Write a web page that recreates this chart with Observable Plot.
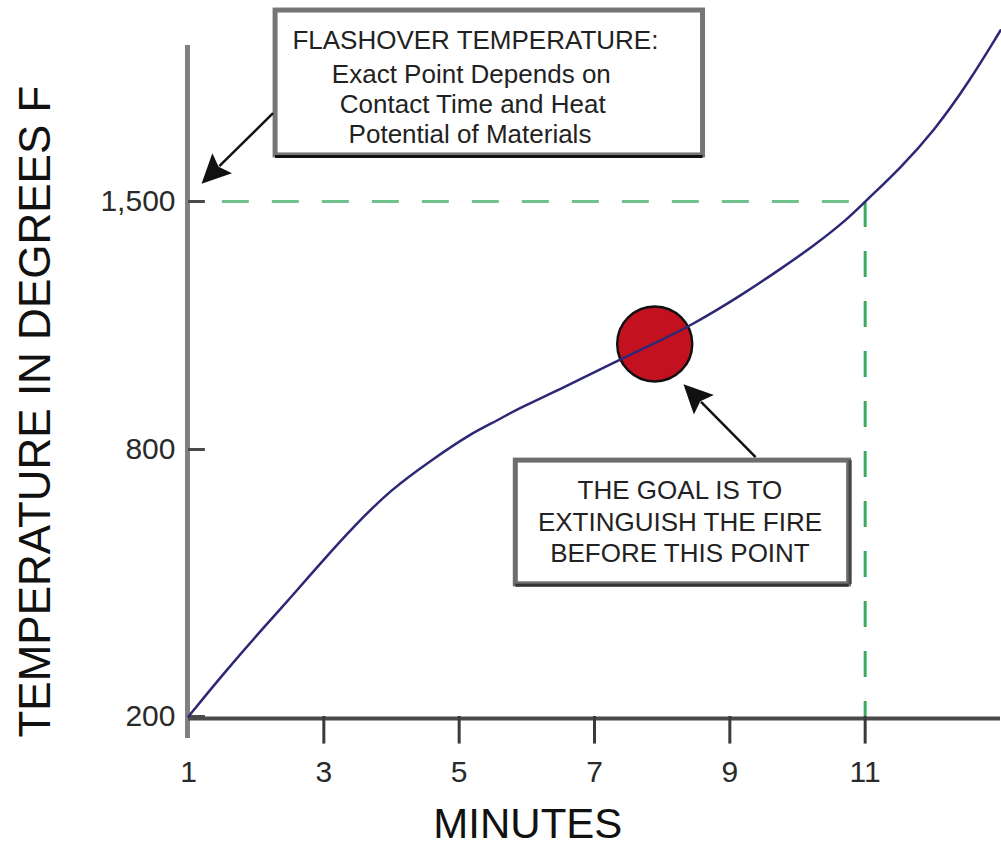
<!DOCTYPE html>
<html>
<head>
<meta charset="utf-8">
<script src="https://cdn.jsdelivr.net/npm/d3@7"></script>
<script src="https://cdn.jsdelivr.net/npm/@observablehq/plot@0.6"></script>
<style>
  html, body { margin: 0; padding: 0; background: #fff; }
  #chart svg { display: block; font-family: "Liberation Sans", Arial, sans-serif; }
</style>
</head>
<body>
<div id="chart"></div>
<script>
// ---- data ----
const minutes = [1, 1.52, 2.11, 2.51, 3.0, 3.44, 3.99, 4.58, 5.17, 5.57, 5.81, 6.55, 7.29, 7.88, 8.43, 9.17, 9.76, 10.25, 10.75, 11.0, 11.53, 12.02, 12.52, 13.0];
const temps   = [200, 297, 400, 467, 553, 627, 710, 775, 845, 882, 910, 975, 1046, 1099, 1150, 1235, 1311, 1376, 1452, 1500, 1596, 1700, 1833, 1983];
const xTicks = [1, 3, 5, 7, 9, 11];
const yTicks = [200, 800, 1500];
const flashoverTemp = 1500;
const flashoverMinute = 11;
const goalPoint = [{minute: 7.89, temp: 1098}];
const xTitle = "MINUTES";
const yTitle = "TEMPERATURE IN DEGREES F";
const box1Lines = ["FLASHOVER TEMPERATURE:", "Exact Point Depends on", "Contact Time and Heat", "Potential of Materials"];
const box2Lines = ["THE GOAL IS TO", "EXTINGUISH THE FIRE", "BEFORE THIS POINT"];

// annotation placement (data units)
const box1 = {x1: 2.287, x2: 8.604, y1: 2039, y2: 1630};
const box2 = {x1: 5.837, x2: 10.763, y1: 775, y2: 497};
const box1Text = [
  {x: 5.24, y: 1955}, {x: 5.18, y: 1857}, {x: 5.2, y: 1772}, {x: 5.16, y: 1690}
].map((d, i) => ({...d, text: box1Lines[i]}));
const box2Text = [
  {x: 8.263, y: 708}, {x: 8.263, y: 636}, {x: 8.263, y: 566}
].map((d, i) => ({...d, text: box2Lines[i]}));
const arrowList = [
  {x1: 2.257, y1: 1748, x2: 1.2, y2: 1549},
  {x1: 9.388, y1: 782, x2: 8.322, y2: 983}
];

const curve = minutes.map((m, i) => ({minute: m, temp: temps[i]}));

// the reference's temperature axis is not evenly spaced: the ticks 200, 800, 1,500
// sit at unequal intervals, so temperatures are warped piecewise before the linear y scale
const warp = d3.scaleLinear().domain([100, 200, 800, 1500, 2200]).range([-44.5, 0, 267, 515, 763]);
const W = v => warp(v);

const NS = "http://www.w3.org/2000/svg";
function arrowMark(list, {headLength = 29, headWidth = 14, stroke = "#111", strokeWidth = 2.5} = {}) {
  return (index, scales) => {
    const g = document.createElementNS(NS, "g");
    for (const a of list) {
      const x1 = scales.x(a.x1), y1 = scales.y(W(a.y1)), x2 = scales.x(a.x2), y2 = scales.y(W(a.y2));
      const dx = x2 - x1, dy = y2 - y1, L = Math.hypot(dx, dy), ux = dx / L, uy = dy / L;
      const bx = x2 - ux * headLength, by = y2 - uy * headLength;
      const line = document.createElementNS(NS, "line");
      line.setAttribute("x1", x1); line.setAttribute("y1", y1);
      line.setAttribute("x2", bx + ux * 4); line.setAttribute("y2", by + uy * 4);
      line.setAttribute("stroke", stroke); line.setAttribute("stroke-width", strokeWidth);
      g.appendChild(line);
      const poly = document.createElementNS(NS, "polygon");
      const pts = [[x2, y2], [bx - uy * headWidth, by + ux * headWidth], [bx + ux * 5, by + uy * 5], [bx + uy * headWidth, by - ux * headWidth]];
      poly.setAttribute("points", pts.map(p => p.join(",")).join(" "));
      poly.setAttribute("fill", stroke);
      g.appendChild(poly);
    }
    return g;
  };
}

const plot = Plot.plot({
  width: 1001,
  height: 846,
  marginTop: 0, marginRight: 0, marginBottom: 0, marginLeft: 0,
  style: {fontFamily: "'Liberation Sans', Arial, sans-serif", background: "#fff"},
  x: {domain: [1, 13], range: [188, 1000], axis: null},
  y: {domain: [0, 763], range: [716, -47], axis: null},
  marks: [
    // axes
    Plot.ruleX([1], {y1: W(150.6), y2: W(1940), stroke: "#808080", strokeWidth: 5, dx: -1}),
    Plot.ruleY([W(200)], {x1: 1, x2: 13, stroke: "#4a4a4a", strokeWidth: 4, dy: 2}),
    Plot.ruleX(xTicks.slice(1), {x: d => d, y1: W(200), y2: W(138), stroke: "#3a3a3a", strokeWidth: 3}),
    Plot.ruleY(yTicks, {y: d => W(d), x1: 1, x2: 1.25, stroke: "#4a4a4a", strokeWidth: 3}),
    Plot.text(xTicks, {x: d => d, y: W(200), dy: 56, text: d => String(d), fontSize: 30, fill: "#2a2a2a"}),
    Plot.text(yTicks, {x: 1, y: d => W(d), dx: -13, text: d => d3.format(",")(d), textAnchor: "end", fontSize: 30, fill: "#2a2a2a"}),
    Plot.text([xTitle], {x: 6.015, y: W(200), dy: 108, text: d => d, fontSize: 42, fill: "#111"}),
    Plot.text([yTitle], {x: -1.256, y: W(907), text: d => d, rotate: -90, fontSize: 44, fill: "#111"}),
    // flashover guides
    Plot.ruleY([flashoverTemp], {y: d => W(d), x1: 1.5, x2: flashoverMinute, stroke: "#6fc28c", strokeWidth: 3, strokeDasharray: "27,23"}),
    Plot.ruleX([flashoverMinute], {x: d => d, y1: W(flashoverTemp), y2: W(200), stroke: "#3daa5e", strokeWidth: 3, strokeDasharray: "26,24"}),
    // goal point and curve
    Plot.dot(goalPoint, {x: "minute", y: d => W(d.temp), r: 37.5, fill: "#c3111f", stroke: "#111", strokeWidth: 2.5}),
    Plot.line(curve, {x: "minute", y: d => W(d.temp), stroke: "#2d2876", strokeWidth: 2.5, curve: "basis"}),
    // annotation boxes
    Plot.rect([box1], {x1: "x1", x2: "x2", y1: d => W(d.y1), y2: d => W(d.y2), fill: "#fff", stroke: "#767676", strokeWidth: 5}),
    Plot.ruleY([box1], {y: d => W(d.y2), x1: "x1", x2: "x2", stroke: "#111", strokeWidth: 3, dy: 1}),
    Plot.text(box1Text, {x: "x", y: d => W(d.y), text: "text", fontSize: 26, fill: "#222"}),
    Plot.rect([box2], {x1: "x1", x2: "x2", y1: d => W(d.y1), y2: d => W(d.y2), fill: "#fff", stroke: "#6e6e6e", strokeWidth: 5}),
    Plot.ruleY([box2], {y: d => W(d.y2), x1: "x1", x2: "x2", stroke: "#333", strokeWidth: 3, dy: 1}),
    Plot.ruleX([box2], {x: "x2", y1: d => W(d.y1), y2: d => W(d.y2), stroke: "#444", strokeWidth: 3, dx: 1}),
    Plot.text(box2Text, {x: "x", y: d => W(d.y), text: "text", fontSize: 26, fill: "#222"}),
    // arrows
    arrowMark(arrowList)
  ]
});
document.getElementById("chart").appendChild(plot);
</script>
</body>
</html>
